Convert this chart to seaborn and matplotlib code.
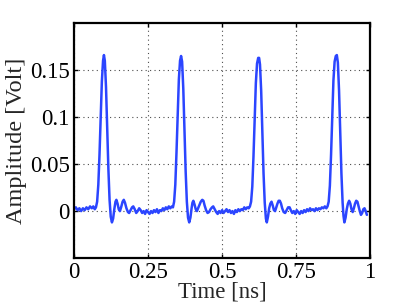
import numpy as np
import matplotlib
matplotlib.use('Agg')
import matplotlib.pyplot as plt
import seaborn as sns

# trace, one segment per pulse
t1 = [0.000, 0.006, 0.012, 0.018, 0.024, 0.030, 0.036, 0.042, 0.048, 0.054, 0.060, 0.065, 0.070, 0.074,
      0.078, 0.082, 0.086, 0.090, 0.094, 0.098, 0.101, 0.104, 0.108, 0.112, 0.116, 0.120, 0.124, 0.128,
      0.132, 0.136, 0.140, 0.143, 0.147, 0.151, 0.155, 0.159, 0.164, 0.168, 0.172, 0.177, 0.182, 0.186,
      0.191, 0.196, 0.200, 0.205, 0.210, 0.215, 0.220, 0.225, 0.230, 0.235, 0.240, 0.245, 0.250, 0.255]
v1 = [0.002, 0.004, 0.001, 0.003, 0.000, 0.003, 0.001, 0.004, 0.002, 0.005, 0.003, 0.005, 0.002, 0.004,
      0.010, 0.028, 0.060, 0.100, 0.138, 0.160, 0.166, 0.160, 0.132, 0.088, 0.045, 0.012, -0.006, -0.012,
      -0.008, 0.002, 0.010, 0.012, 0.008, 0.002, 0.000, 0.004, 0.010, 0.012, 0.009, 0.003, -0.001, -0.002,
      0.001, 0.004, 0.005, 0.002, -0.002, 0.000, 0.003, 0.001, -0.002, 0.000, -0.003, 0.001, -0.001, -0.003]

t2 = [0.260, 0.265, 0.270, 0.275, 0.280, 0.285, 0.290, 0.295, 0.300, 0.305, 0.310, 0.315, 0.320, 0.325,
      0.330, 0.334, 0.338, 0.342, 0.346, 0.350, 0.354, 0.358, 0.3615, 0.365, 0.369, 0.373, 0.377, 0.381,
      0.385, 0.389, 0.393, 0.397, 0.400, 0.403, 0.407, 0.411, 0.415, 0.419, 0.424, 0.428, 0.433, 0.437,
      0.441, 0.446, 0.451, 0.456, 0.461, 0.466, 0.470, 0.475, 0.480, 0.485, 0.490, 0.495, 0.500, 0.505,
      0.510, 0.515, 0.520]
v2 = [0.000, -0.002, 0.001, -0.001, 0.002, -0.002, 0.001, 0.000, 0.003, 0.001, 0.004, 0.002, 0.005, 0.003,
      0.005, 0.004, 0.010, 0.028, 0.062, 0.102, 0.140, 0.160, 0.165, 0.159, 0.130, 0.085, 0.042, 0.010,
      -0.007, -0.012, -0.007, 0.003, 0.009, 0.011, 0.007, 0.002, 0.000, 0.003, 0.007, 0.010, 0.012, 0.011,
      0.006, 0.001, -0.002, -0.001, 0.002, 0.004, 0.005, 0.002, -0.001, -0.003, 0.000, -0.002, 0.001, -0.002,
      0.000, 0.002, -0.001]

t3 = [0.525, 0.530, 0.535, 0.540, 0.545, 0.550, 0.555, 0.560, 0.565, 0.570, 0.575, 0.580, 0.585, 0.590,
      0.594, 0.598, 0.602, 0.606, 0.610, 0.614, 0.618, 0.622, 0.625, 0.628, 0.632, 0.636, 0.640, 0.644,
      0.648, 0.651, 0.655, 0.659, 0.663, 0.667, 0.671, 0.675, 0.679, 0.683, 0.687, 0.691, 0.695, 0.699,
      0.703, 0.708, 0.713, 0.718, 0.723, 0.728, 0.732, 0.737, 0.742, 0.747, 0.752, 0.757, 0.762, 0.767,
      0.772, 0.777, 0.782]
v3 = [0.001, -0.002, 0.000, -0.003, 0.001, -0.001, 0.002, 0.000, 0.002, 0.001, 0.004, 0.002, 0.004, 0.003,
      0.005, 0.010, 0.026, 0.058, 0.098, 0.136, 0.157, 0.163, 0.163, 0.156, 0.128, 0.083, 0.040, 0.009,
      -0.008, -0.012, -0.006, 0.003, 0.008, 0.010, 0.006, 0.001, 0.000, 0.004, 0.008, 0.011, 0.011, 0.008,
      0.003, -0.001, -0.002, 0.001, 0.004, 0.004, 0.001, -0.002, 0.000, -0.003, 0.001, -0.001, -0.003, 0.000,
      -0.002, 0.001, -0.001]

t4 = [0.787, 0.792, 0.797, 0.802, 0.807, 0.812, 0.817, 0.822, 0.827, 0.832, 0.837, 0.842, 0.847, 0.852,
      0.856, 0.860, 0.864, 0.868, 0.872, 0.876, 0.880, 0.884, 0.8875, 0.891, 0.895, 0.899, 0.903, 0.907,
      0.910, 0.913, 0.917, 0.921, 0.925, 0.929, 0.933, 0.937, 0.941, 0.945, 0.949, 0.953, 0.957, 0.961,
      0.965, 0.969, 0.973, 0.977, 0.981, 0.985, 0.989]
v4 = [0.002, 0.000, 0.003, 0.001, 0.002, 0.000, 0.003, 0.001, 0.003, 0.002, 0.004, 0.003, 0.005, 0.003,
      0.005, 0.010, 0.027, 0.060, 0.100, 0.139, 0.159, 0.165, 0.166, 0.158, 0.128, 0.084, 0.040, 0.009,
      -0.005, -0.012, -0.007, 0.002, 0.008, 0.011, 0.008, 0.002, -0.001, 0.003, 0.008, 0.011, 0.010, 0.005,
      0.000, -0.004, -0.002, 0.002, 0.003, 0.000, -0.004]

x_ticks = [0, 0.25, 0.5, 0.75, 1]
x_labels = ['0', '0.25', '0.5', '0.75', '1']
y_ticks = [0, 0.05, 0.1, 0.15]
y_labels = ['0', '0.05', '0.1', '0.15']

sns.set_style('ticks')
plt.rcParams['font.family'] = ['Liberation Serif', 'DejaVu Serif']
plt.rcParams['font.size'] = 16.5

time_ns = np.array(t1 + t2 + t3 + t4)
amp_v = np.array(v1 + v2 + v3 + v4)

fig = plt.figure(figsize=(4.09, 3.08), dpi=100)
ax = fig.add_axes([0.181, 0.162, 0.724, 0.763])

sns.lineplot(x=time_ns, y=amp_v, ax=ax, color='#2b45ff', linewidth=1.8, sort=False)

ax.set_xlim(0, 1)
ax.set_ylim(-0.05, 0.2)
ax.set_xticks(x_ticks)
ax.set_xticklabels(x_labels)
ax.set_yticks(y_ticks)
ax.set_yticklabels(y_labels)
ax.grid(True, linestyle=(0, (1, 3)), color='0.3', linewidth=0.8)
ax.tick_params(direction='in', length=3, width=1, top=True, right=True, labelsize=16.5, pad=3, colors='black')
for s in ax.spines.values():
    s.set_linewidth(1.6)
    s.set_color('black')
    s.set_visible(True)

ax.set_xlabel('Time [ns]', fontsize=16.5, labelpad=-1)
ax.set_ylabel('Amplitude [Volt]', fontsize=17.5, labelpad=2)

fig.savefig('out.png', dpi=100)
